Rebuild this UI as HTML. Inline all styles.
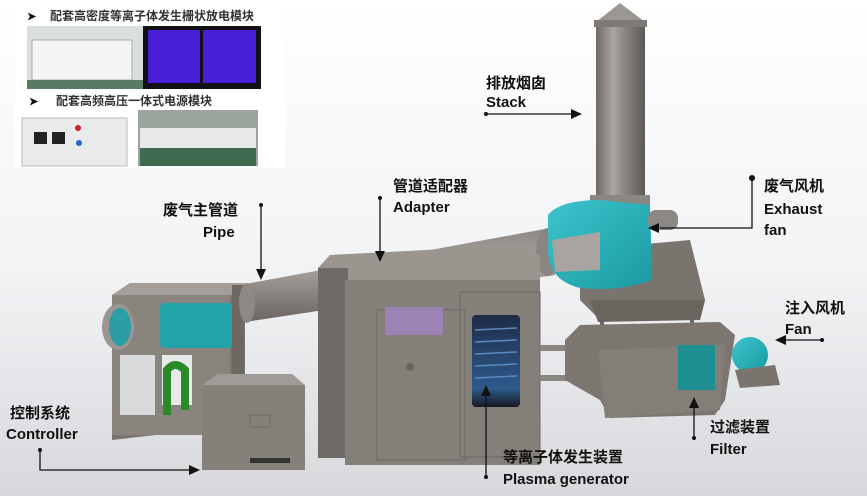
<!DOCTYPE html>
<html><head><meta charset="utf-8"><style>
html,body{margin:0;padding:0;width:867px;height:496px;overflow:hidden;background:#eef0f2}
svg{display:block}
text{font-family:"Liberation Sans","Noto Sans CJK SC",sans-serif;font-weight:bold;fill:#111}
.cn{font-size:15px;font-weight:bold}
.en{font-size:15px}
</style></head><body>
<svg width="867" height="496" viewBox="0 0 867 496" xmlns="http://www.w3.org/2000/svg">
<defs>
<linearGradient id="bg" x1="0" y1="0" x2="0" y2="1"><stop offset="0" stop-color="#ffffff"/><stop offset="0.55" stop-color="#f2f3f5"/><stop offset="1" stop-color="#d6d8db"/></linearGradient>
<linearGradient id="cyl" x1="0" y1="0" x2="1" y2="0"><stop offset="0" stop-color="#6e6a66"/><stop offset="0.35" stop-color="#a9a5a1"/><stop offset="0.6" stop-color="#8a8581"/><stop offset="1" stop-color="#5d5955"/></linearGradient>
<linearGradient id="pipe" x1="0" y1="0" x2="0" y2="1"><stop offset="0" stop-color="#8d8884"/><stop offset="0.4" stop-color="#a8a39f"/><stop offset="1" stop-color="#6a6561"/></linearGradient>
<linearGradient id="teal" x1="0" y1="0" x2="1" y2="1"><stop offset="0" stop-color="#3cc4cc"/><stop offset="1" stop-color="#1a9aa2"/></linearGradient>
<linearGradient id="win" x1="0" y1="0" x2="0" y2="1"><stop offset="0" stop-color="#1e2c46"/><stop offset="0.8" stop-color="#2f5a8c"/><stop offset="1" stop-color="#151820"/></linearGradient>
</defs>
<rect width="867" height="496" fill="url(#bg)"/>

<!-- inset panel -->
<rect x="15" y="0" width="270" height="168" fill="#fff"/>
<text x="27" y="20" class="cn" style="font-size:11px">➤</text>
<text x="50" y="20" class="cn" style="font-size:12px;fill:#333">配套高密度等离子体发生栅状放电模块</text>
<rect x="27" y="26" width="116" height="63" fill="#d9e0dc"/>
<rect x="32" y="40" width="100" height="40" fill="#f4f6f4" stroke="#aab" stroke-width="1"/>
<rect x="27" y="80" width="116" height="9" fill="#5a7a64"/>
<rect x="143" y="26" width="118" height="63" fill="#111"/>
<rect x="148" y="30" width="52" height="53" fill="#4a1fd8"/>
<rect x="203" y="30" width="53" height="53" fill="#4a1fd8"/>
<text x="29" y="105" class="cn" style="font-size:11px">➤</text>
<text x="56" y="105" class="cn" style="font-size:12px;fill:#333">配套高频高压一体式电源模块</text>
<rect x="22" y="118" width="105" height="48" fill="#e8eaec" stroke="#bbb"/>
<rect x="34" y="132" width="13" height="12" fill="#222"/><rect x="52" y="132" width="13" height="12" fill="#222"/>
<circle cx="78" cy="128" r="3" fill="#c22"/><circle cx="79" cy="143" r="3" fill="#26c"/>
<rect x="138" y="110" width="120" height="56" fill="#9aa49c"/>
<rect x="140" y="128" width="116" height="20" fill="#e6e8ea"/>
<rect x="140" y="148" width="116" height="18" fill="#3e6a52"/>

<!-- stack -->
<polygon points="596,22 620,3 645,22" fill="#9a9692"/>
<rect x="594" y="20" width="53" height="7" fill="#7d7975"/>
<rect x="596" y="27" width="49" height="185" fill="url(#cyl)"/>
<rect x="590" y="195" width="60" height="20" fill="#8a8682"/>

<!-- exhaust fan base -->
<polygon points="580,250 690,240 705,300 700,320 600,320 580,300" fill="#7a746f"/>
<polygon points="590,300 705,300 700,320 598,322" fill="#6a645f"/>
<rect x="600" y="320" width="4" height="22" fill="#666"/><rect x="690" y="318" width="4" height="25" fill="#666"/>
<!-- main pipe -->
<polygon points="240,285 550,228 555,275 245,322" fill="url(#pipe)"/>
<ellipse cx="548" cy="252" rx="12" ry="24" fill="#8a8581"/>
<!-- teal fan -->
<path d="M548,215 Q560,200 600,200 L650,205 L652,280 Q620,292 580,288 Q548,280 548,250 Z" fill="url(#teal)"/>
<rect x="648" y="210" width="30" height="20" rx="8" fill="#8c8884"/>
<polygon points="552,240 600,232 600,270 555,272" fill="#a8a4a0"/>

<!-- left box -->
<polygon points="112,295 130,283 232,283 245,295 245,425 112,440" fill="#7a746f"/>
<polygon points="112,295 232,295 245,283 130,283" fill="#a39e99"/>
<rect x="112" y="295" width="118" height="140" fill="#8a847f"/>
<rect x="160" y="303" width="72" height="45" rx="4" fill="#22a3a8"/>
<rect x="120" y="355" width="35" height="60" fill="#d8dadc"/>
<rect x="162" y="355" width="30" height="50" fill="#e6e8ea"/>
<path d="M167,415 L167,370 Q175,360 185,370 L185,410" stroke="#2a8a2a" stroke-width="8" fill="none"/>
<ellipse cx="118" cy="327" rx="16" ry="23" fill="#9b9692"/>
<ellipse cx="120" cy="327" rx="11" ry="19" fill="#2a9ea4"/>
<rect x="232" y="285" width="12" height="140" fill="#6e6863"/>
<ellipse cx="247" cy="303" rx="8" ry="20" fill="#8e8985"/>

<!-- controller -->
<polygon points="202,385 218,374 292,374 305,385" fill="#a09b96"/>
<rect x="202" y="385" width="103" height="85" fill="#858079"/>
<rect x="250" y="415" width="20" height="12" fill="none" stroke="#6f6a65"/>
<rect x="250" y="458" width="40" height="5" fill="#333"/>

<!-- plasma cabinet -->
<polygon points="318,268 330,255 522,245 540,255 540,280 345,280" fill="#9a958f"/>
<rect x="318" y="268" width="30" height="190" fill="#6f6a65"/>
<rect x="345" y="280" width="195" height="185" fill="#857f79"/>
<rect x="377" y="310" width="88" height="150" fill="none" stroke="#6c6762" stroke-width="1"/>
<rect x="460" y="292" width="80" height="165" fill="none" stroke="#6c6762" stroke-width="1"/>
<rect x="385" y="307" width="58" height="28" fill="#9b84b4"/>
<circle cx="410" cy="367" r="4" fill="#6a6560"/>
<rect x="472" y="315" width="48" height="92" rx="4" fill="url(#win)"/>
<g stroke="#5a8ac4" stroke-width="1.5"><line x1="475" y1="330" x2="517" y2="328"/><line x1="475" y1="342" x2="517" y2="340"/><line x1="475" y1="354" x2="517" y2="352"/><line x1="475" y1="366" x2="517" y2="364"/><line x1="475" y1="378" x2="517" y2="376"/></g>

<!-- filter -->
<rect x="540" y="345" width="30" height="6" fill="#8a8682"/>
<rect x="540" y="375" width="30" height="6" fill="#8a8682"/>
<polygon points="565,340 580,325 720,322 735,335 725,400 715,415 610,418 600,400 565,380" fill="#7c7671"/>
<polygon points="598,350 725,345 720,410 605,418" fill="#847e78"/>
<rect x="678" y="345" width="37" height="45" fill="#1e8f90"/>
<ellipse cx="750" cy="355" rx="18" ry="18" fill="url(#teal)"/>
<polygon points="735,370 775,365 780,385 740,388" fill="#7a746f"/>

<!-- labels & arrows -->
<g stroke="#111" stroke-width="1.3" fill="none">
<line x1="486" y1="114" x2="572" y2="114"/>
<line x1="380" y1="200" x2="380" y2="252"/>
<line x1="261" y1="205" x2="261" y2="272"/>
<polyline points="752,180 752,228 660,228"/>
<line x1="822" y1="340" x2="785" y2="340"/>
<polyline points="40,452 40,470 190,470"/>
<line x1="486" y1="475" x2="486" y2="395"/>
<line x1="694" y1="437" x2="694" y2="405"/>
</g>
<g fill="#111">
<polygon points="582,114 571,109 571,119"/>
<polygon points="380,262 375,251 385,251"/>
<polygon points="261,280 256,269 266,269"/>
<polygon points="648,228 659,223 659,233"/>
<polygon points="775,340 786,335 786,345"/>
<polygon points="200,470 189,465 189,475"/>
<polygon points="486,385 481,396 491,396"/>
<polygon points="694,397 689,408 699,408"/>
<circle cx="486" cy="114" r="2"/><circle cx="380" cy="198" r="2"/><circle cx="261" cy="205" r="2"/>
<circle cx="752" cy="178" r="3"/><circle cx="822" cy="340" r="2"/><circle cx="40" cy="450" r="2"/>
<circle cx="486" cy="477" r="2"/><circle cx="694" cy="438" r="2"/>
</g>
<text x="486" y="88" class="cn">排放烟囱</text><text x="486" y="107" class="en">Stack</text>
<text x="393" y="191" class="cn">管道适配器</text><text x="393" y="212" class="en">Adapter</text>
<text x="163" y="215" class="cn">废气主管道</text><text x="203" y="237" class="en">Pipe</text>
<text x="764" y="191" class="cn">废气风机</text><text x="764" y="214" class="en">Exhaust</text><text x="764" y="235" class="en">fan</text>
<text x="785" y="313" class="cn">注入风机</text><text x="785" y="334" class="en">Fan</text>
<text x="10" y="418" class="cn">控制系统</text><text x="6" y="439" class="en">Controller</text>
<text x="503" y="462" class="cn">等离子体发生装置</text><text x="503" y="484" class="en">Plasma generator</text>
<text x="710" y="432" class="cn">过滤装置</text><text x="710" y="454" class="en">Filter</text>
</svg>
</body></html>
